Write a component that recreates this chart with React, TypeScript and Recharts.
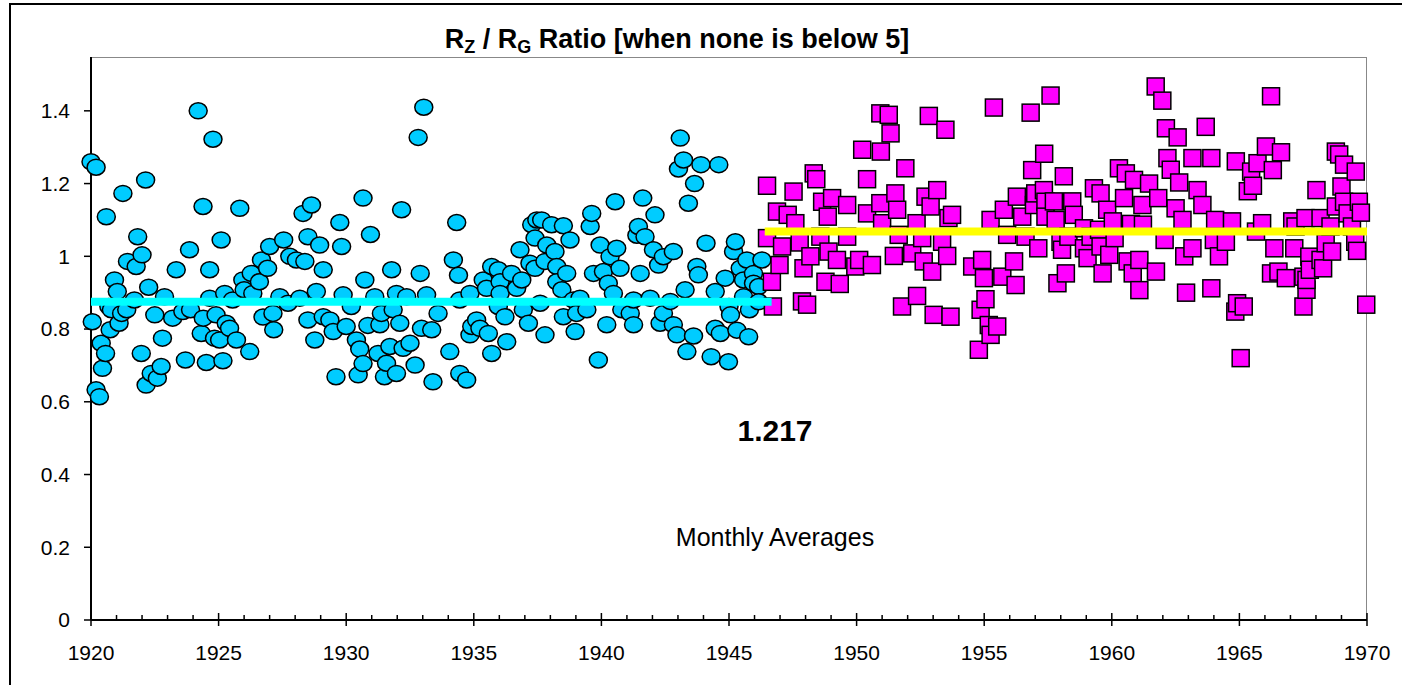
import React from "react"
import { ScatterChart, Scatter, XAxis, YAxis } from "recharts"

// early period (cyan ellipses), monthly averages
const cyanYears = [
  1920.0, 1920.05, 1920.2, 1920.2, 1920.33, 1920.4, 1920.45, 1920.57, 1920.6, 1920.7, 1920.75, 1920.8,
  1920.92, 1921.03, 1921.1, 1921.2, 1921.25, 1921.4, 1921.43, 1921.7, 1921.77, 1921.83, 1921.97, 1922.0,
  1922.14, 1922.16, 1922.26, 1922.36, 1922.5, 1922.6, 1922.75, 1922.8, 1922.88, 1923.2, 1923.34, 1923.6,
  1923.7, 1923.86, 1923.9, 1924.2, 1924.32, 1924.39, 1924.4, 1924.52, 1924.65, 1924.65, 1924.78, 1924.84,
  1924.9, 1925.04, 1925.1, 1925.17, 1925.24, 1925.3, 1925.43, 1925.55, 1925.7, 1925.83, 1925.95, 1926.0,
  1926.22, 1926.28, 1926.34, 1926.6, 1926.68, 1926.74, 1926.92, 1927.0, 1927.13, 1927.16, 1927.4, 1927.55,
  1927.72, 1927.79, 1928.05, 1928.18, 1928.31, 1928.38, 1928.5, 1928.5, 1928.64, 1928.77, 1928.83, 1928.96,
  1929.1, 1929.1, 1929.36, 1929.49, 1929.6, 1929.75, 1929.82, 1929.88, 1930.0, 1930.2, 1930.4, 1930.47,
  1930.53, 1930.66, 1930.66, 1930.73, 1930.85, 1930.95, 1931.12, 1931.25, 1931.32, 1931.38, 1931.5, 1931.58,
  1931.71, 1931.78, 1931.84, 1931.97, 1931.97, 1932.1, 1932.17, 1932.23, 1932.37, 1932.5, 1932.7, 1932.82,
  1932.9, 1932.95, 1933.04, 1933.15, 1933.35, 1933.4, 1933.6, 1934.06, 1934.2, 1934.33, 1934.4, 1934.45,
  1934.45, 1934.72, 1934.85, 1934.85, 1934.92, 1935.11, 1935.24, 1935.37, 1935.5, 1935.57, 1935.7, 1935.7,
  1935.96, 1935.96, 1936.03, 1936.03, 1936.22, 1936.29, 1936.48, 1936.68, 1936.81, 1936.88, 1936.94, 1937.14,
  1937.2, 1937.27, 1937.4, 1937.4, 1937.47, 1937.6, 1937.66, 1937.79, 1937.79, 1937.86, 1938.05, 1938.18,
  1938.25, 1938.25, 1938.45, 1938.51, 1938.51, 1938.64, 1938.77, 1938.9, 1938.97, 1939.03, 1939.16, 1939.43,
  1939.56, 1939.62, 1939.69, 1939.88, 1939.95, 1940.08, 1940.21, 1940.27, 1940.34, 1940.47, 1940.54, 1940.6,
  1940.73, 1940.8, 1941.13, 1941.26, 1941.26, 1941.39, 1941.45, 1941.52, 1941.62, 1941.71, 1941.91, 1942.04,
  1942.1, 1942.24, 1942.3, 1942.43, 1942.43, 1942.7, 1942.82, 1942.82, 1942.96, 1943.02, 1943.09, 1943.22,
  1943.28, 1943.35, 1943.41, 1943.61, 1943.65, 1943.74, 1943.8, 1943.9, 1944.1, 1944.3, 1944.46, 1944.46,
  1944.6, 1944.66, 1944.85, 1944.98, 1945.0, 1945.06, 1945.18, 1945.25, 1945.31, 1945.44, 1945.57, 1945.57,
  1945.7, 1945.77, 1945.8, 1945.96, 1945.96, 1946.16, 1946.16, 1946.29,
]
const cyanValues = [
  1.26, 0.82, 1.245, 0.633, 0.614, 0.761, 0.692, 0.733, 1.109, 0.862, 0.798, 0.853,
  0.935, 0.903, 0.816, 0.843, 1.173, 0.853, 0.986, 0.88, 0.972, 1.054, 0.733, 1.004,
  1.21, 0.646, 0.915, 0.678, 0.839, 0.665, 0.697, 0.775, 0.889, 0.83, 0.963, 0.848,
  0.715, 1.018, 0.853, 1.4, 0.788, 1.137, 0.83, 0.708, 0.963, 0.885, 1.322, 0.775,
  0.839, 0.77, 1.045, 0.713, 0.898, 0.816, 0.802, 0.88, 0.77, 1.132, 0.935, 0.908,
  0.738, 0.953, 0.898, 0.93, 0.99, 0.833, 0.967, 1.027, 0.843, 0.798, 0.889, 1.045,
  0.871, 1.0, 0.99, 0.885, 1.118, 0.986, 1.054, 0.825, 1.141, 0.77, 0.903, 1.031,
  0.963, 0.834, 0.825, 0.793, 0.669, 1.093, 1.027, 0.894, 0.807, 0.862, 0.77, 0.674,
  0.745, 0.705, 1.16, 0.935, 0.81, 1.06, 0.889, 0.733, 0.812, 0.843, 0.669, 0.706,
  0.752, 0.963, 0.853, 0.898, 0.678, 0.816, 1.128, 0.747, 0.889, 0.761, 0.701, 1.327,
  0.953, 0.802, 1.41, 0.894, 0.798, 0.655, 0.843, 0.738, 0.99, 1.093, 0.948, 0.88,
  0.678, 0.66, 0.898, 0.784, 0.807, 0.825, 0.802, 0.935, 0.912, 0.788, 0.972, 0.733,
  0.963, 0.862, 0.93, 0.898, 0.834, 0.765, 0.953, 0.912, 1.018, 0.935, 0.853, 0.816,
  0.981, 1.087, 1.05, 0.967, 1.1, 0.871, 1.1, 0.986, 0.784, 1.031, 1.087, 1.013,
  0.972, 0.93, 0.908, 1.084, 0.834, 0.953, 1.045, 0.88, 0.793, 0.843, 0.885, 0.853,
  1.082, 1.118, 0.953, 0.715, 1.031, 0.958, 0.812, 0.926, 0.999, 0.898, 1.15, 1.022,
  0.967, 0.853, 0.843, 0.88, 0.812, 1.058, 1.082, 0.953, 1.16, 1.054, 0.885, 1.018,
  1.114, 0.976, 0.816, 0.999, 0.843, 0.876, 1.013, 0.812, 0.784, 1.24, 1.325, 1.265,
  0.908, 0.738, 1.146, 0.781, 1.2, 0.972, 0.949, 1.252, 1.036, 0.724, 0.903, 0.802,
  1.252, 0.788, 0.94, 0.71, 0.862, 0.839, 1.013, 1.04, 0.797, 0.967, 0.935, 0.889,
  0.99, 0.779, 0.853, 0.953, 0.926, 0.917, 0.875, 0.99,
]

// later period (magenta squares)
const magentaYears = [
  1946.49, 1946.49, 1946.68, 1946.72, 1946.88, 1946.98, 1947.08, 1947.3, 1947.53, 1947.6, 1947.77, 1947.86,
  1947.92, 1948.06, 1948.19, 1948.32, 1948.42, 1948.58, 1948.65, 1948.78, 1948.87, 1948.9, 1949.04, 1949.23,
  1949.34, 1949.63, 1949.63, 1949.95, 1950.1, 1950.22, 1950.41, 1950.41, 1950.6, 1950.93, 1950.95, 1950.93,
  1951.0, 1951.26, 1951.33, 1951.46, 1951.52, 1951.59, 1951.65, 1951.78, 1951.91, 1952.18, 1952.35, 1952.37,
  1952.57, 1952.63, 1952.7, 1952.83, 1952.9, 1952.96, 1953.02, 1953.16, 1953.35, 1953.48, 1953.55, 1953.6,
  1953.68, 1953.74, 1954.53, 1954.79, 1954.86, 1954.92, 1954.99, 1955.05, 1955.18, 1955.25, 1955.25, 1955.38,
  1955.51, 1955.71, 1955.77, 1955.9, 1956.17, 1956.23, 1956.28, 1956.49, 1956.62, 1956.82, 1956.88, 1956.95,
  1957.0, 1957.12, 1957.35, 1957.34, 1957.4, 1957.4, 1957.6, 1957.73, 1957.8, 1957.87, 1957.99, 1958.05,
  1958.12, 1958.2, 1958.3, 1958.45, 1958.51, 1958.91, 1958.91, 1959.05, 1959.17, 1959.3, 1959.5, 1959.56,
  1959.56, 1959.64, 1959.82, 1959.9, 1960.04, 1960.11, 1960.28, 1960.48, 1960.55, 1960.62, 1960.75, 1960.82,
  1960.87, 1961.08, 1961.08, 1961.2, 1961.22, 1961.46, 1961.72, 1961.73, 1961.82, 1961.98, 1962.07, 1962.12,
  1962.18, 1962.31, 1962.5, 1962.58, 1962.64, 1962.77, 1962.84, 1962.91, 1963.16, 1963.16, 1963.36, 1963.55,
  1963.68, 1963.9, 1963.9, 1964.0, 1964.05, 1964.2, 1964.47, 1964.71, 1964.84, 1964.86, 1964.91, 1965.05,
  1965.17, 1965.33, 1965.46, 1965.53, 1965.65, 1965.71, 1965.89, 1966.04, 1966.24, 1966.24, 1966.31, 1966.37,
  1966.53, 1966.63, 1966.82, 1967.07, 1967.15, 1967.2, 1967.51, 1967.51, 1967.59, 1967.63, 1967.63, 1967.74,
  1967.76, 1968.02, 1968.18, 1968.18, 1968.28, 1968.38, 1968.57, 1968.63, 1968.78, 1968.78, 1968.91, 1969.0,
  1969.1, 1969.1, 1969.24, 1969.41, 1969.54, 1969.56, 1969.61, 1969.68, 1969.76, 1969.97,
]
const magentaValues = [
  1.194, 1.05, 0.93, 0.862, 1.123, 0.976, 1.027, 1.114, 1.178, 1.091, 1.038, 0.876,
  0.967, 0.867, 1.0, 1.228, 1.212, 1.054, 1.15, 0.93, 1.109, 1.013, 1.16, 0.99,
  0.924, 1.141, 1.054, 0.972, 0.99, 1.293, 1.212, 1.118, 0.976, 1.393, 1.288, 1.146,
  1.091, 1.389, 1.338, 1.001, 1.173, 1.128, 1.059, 0.862, 1.242, 1.008, 1.091, 0.891,
  1.05, 0.986, 1.164, 1.386, 1.137, 0.958, 0.839, 1.182, 1.04, 1.348, 1.001, 1.105,
  0.834, 1.114, 0.972, 0.743, 0.853, 0.99, 0.94, 0.882, 0.811, 1.1, 0.784, 1.409,
  0.807, 0.944, 1.128, 1.059, 0.986, 0.921, 1.164, 1.109, 1.054, 1.395, 1.237, 1.141,
  1.173, 1.022, 1.282, 1.182, 1.15, 1.109, 1.442, 1.151, 1.1, 0.926, 1.04, 1.018,
  1.22, 0.953, 1.054, 1.151, 1.114, 1.077, 1.022, 0.995, 1.054, 1.187, 1.073, 1.173,
  1.027, 0.953, 1.128, 1.004, 1.096, 1.05, 1.242, 1.16, 1.228, 0.986, 1.089, 0.953,
  1.21, 0.99, 0.907, 1.141, 1.087, 1.2, 1.467, 0.958, 1.16, 1.428, 1.045, 1.352,
  1.27, 1.238, 1.132, 1.327, 1.203, 1.1, 1.0, 0.9, 1.27, 1.022, 1.182, 1.141,
  1.356, 1.27, 0.912, 1.045, 1.1, 1.0, 1.04, 1.096, 0.848, 1.261, 0.871, 0.72,
  0.862, 1.179, 1.233, 1.194, 1.068, 1.256, 1.091, 1.302, 1.44, 0.953, 1.237, 1.022,
  0.958, 1.286, 0.94, 1.096, 1.022, 1.082, 0.944, 0.862, 1.105, 0.908, 0.935, 0.999,
  0.963, 1.182, 1.105, 0.99, 0.967, 1.036, 1.082, 1.013, 1.288, 1.137, 1.28, 1.192,
  1.252, 1.15, 1.118, 1.082, 1.04, 1.233, 1.015, 1.15, 1.12, 0.867,
]

// period means drawn as thick horizontal bars
const cyanMean = 0.875
const cyanSpan = [1920, 1946.67]
const yellowMean = 1.068
const yellowSpan = [1946.4, 1970]

const xTicks = [
  1920, 1921, 1922, 1923, 1924, 1925, 1926, 1927, 1928, 1929, 1930, 1931, 1932, 1933, 1934, 1935, 1936,
  1937, 1938, 1939, 1940, 1941, 1942, 1943, 1944, 1945, 1946, 1947, 1948, 1949, 1950, 1951, 1952, 1953,
  1954, 1955, 1956, 1957, 1958, 1959, 1960, 1961, 1962, 1963, 1964, 1965, 1966, 1967, 1968, 1969, 1970,
]
const yTicks = [0, 0.2, 0.4, 0.6, 0.8, 1, 1.2, 1.4]

const FONT = "'Liberation Sans', Arial, sans-serif"

const cyanData = cyanYears.map((x, i) => ({ x, y: cyanValues[i] }))
const magentaData = magentaYears.map((x, i) => ({ x, y: magentaValues[i] }))
const cyanLine = cyanSpan.map((x) => ({ x, y: cyanMean }))
const yellowLine = yellowSpan.map((x) => ({ x, y: yellowMean }))

const Dot = (props: any) => (
  <ellipse cx={props.cx} cy={props.cy} rx={9} ry={8} fill="#00CCFF" stroke="#000" strokeWidth={1.5} />
)

const Box = (props: any) => (
  <rect x={props.cx - 8.5} y={props.cy - 8.5} width={17} height={17} fill="#FF00FF" stroke="#000" strokeWidth={1.5} />
)

const NoMark = () => <g />

const YearTick = ({ x, y, payload }: any) => {
  const major = payload.value % 5 === 0
  return (
    <g>
      <line x1={x} x2={x} y1={major ? y - 7 : y - 5} y2={major ? y + 6 : y} stroke="#000" strokeWidth={1.5} />
      {major && (
        <text x={x} y={y + 40} textAnchor="middle" fontSize={21} fontFamily={FONT} fill="#000">
          {payload.value}
        </text>
      )}
    </g>
  )
}

export default function App() {
  return (
    <div style={{ position: "absolute", left: 0, top: 0, width: 1402, height: 685, background: "#fff" }}>
      <div
        style={{
          position: "absolute", left: 9, top: 3, width: 1391, height: 680,
          borderLeft: "2px solid #000", borderTop: "2px solid #000",
        }}
      />
      <div
        style={{
          position: "absolute", left: 91, top: 57, width: 1275, height: 563,
          borderTop: "1.5px solid #888", borderRight: "1.5px solid #888",
        }}
      />
      <div style={{ position: "absolute", left: 0, top: 0 }}>
        <ScatterChart width={1402} height={685} margin={{ top: 57, right: 35, bottom: 0, left: 0 }}>
          <XAxis
            type="number"
            dataKey="x"
            domain={[1920, 1970]}
            ticks={xTicks}
            interval={0}
            height={65}
            tickSize={0}
            tickMargin={0}
            tickLine={false}
            tick={<YearTick />}
            axisLine={{ stroke: "#000", strokeWidth: 2 }}
          />
          <YAxis
            type="number"
            dataKey="y"
            domain={[0, 1.548]}
            ticks={yTicks}
            interval={0}
            width={91}
            tickSize={7}
            tickMargin={14}
            tickFormatter={(v: number) => String(Number(v.toFixed(1)))}
            tick={{ fontSize: 21, fontFamily: FONT, fill: "#000" }}
            tickLine={{ stroke: "#000", strokeWidth: 1.5 }}
            axisLine={{ stroke: "#000", strokeWidth: 2 }}
          />
          <Scatter data={cyanData} shape={<Dot />} isAnimationActive={false} />
          <Scatter data={magentaData} shape={<Box />} isAnimationActive={false} />
          <Scatter
            data={cyanLine}
            line={{ stroke: "#00FFFF", strokeWidth: 8 }}
            shape={<NoMark />}
            isAnimationActive={false}
          />
          <Scatter
            data={yellowLine}
            line={{ stroke: "#FFFF00", strokeWidth: 8 }}
            shape={<NoMark />}
            isAnimationActive={false}
          />
        </ScatterChart>
      </div>
      <div
        style={{
          position: "absolute", left: 0, width: 1354, top: 26, lineHeight: "27px",
          textAlign: "center", fontFamily: FONT, fontWeight: "bold", fontSize: 27, color: "#000",
        }}
      >
        R<span style={{ fontSize: 18, verticalAlign: -5 }}>Z</span> / R
        <span style={{ fontSize: 18, verticalAlign: -5 }}>G</span> Ratio [when none is below 5]
      </div>
      <div
        style={{
          position: "absolute", left: 575, width: 400, top: 414, lineHeight: "34px",
          textAlign: "center", fontFamily: FONT, fontWeight: "bold", fontSize: 30, color: "#000",
        }}
      >
        1.217
      </div>
      <div
        style={{
          position: "absolute", left: 575, width: 400, top: 522, lineHeight: "31px",
          textAlign: "center", fontFamily: FONT, fontSize: 25, color: "#000",
        }}
      >
        Monthly Averages
      </div>
    </div>
  )
}
